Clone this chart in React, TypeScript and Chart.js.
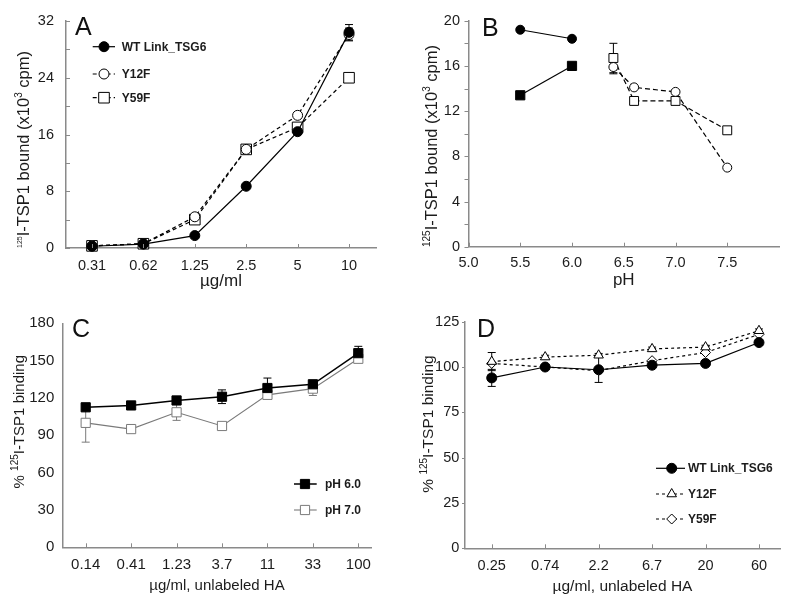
import React, { useEffect, useRef } from 'react';
import { Chart, registerables } from 'chart.js';

Chart.register(...registerables);

const FONT = "'Liberation Sans', Arial, Helvetica, sans-serif";
const TEXT = '#1c1c1c';
const AXIS = '#8a8a8a';
const GRAY = '#7a7a7a';

Chart.defaults.font.family = FONT;
Chart.defaults.color = TEXT;

// ---------------- Panel A ----------------
const A_CONC = ['0.31', '0.62', '1.25', '2.5', '5', '10'];
const A_SERIES = ['WT Link_TSG6', 'Y12F', 'Y59F'];
const A_WT = [0.25, 0.55, 1.75, 8.7, 16.4, 30.4];
const A_WT_ERR = [0, 0, 0, 0, 0, 1.1];
const A_Y12F = [0.3, 0.6, 4.4, 13.9, 18.7, 30.1];
const A_Y12F_ERR = [0, 0, 0, 0, 0, 0.9];
const A_Y59F = [0.3, 0.6, 4.0, 13.9, 17.0, 24.0];
const A_Y_TICKS = [0, 4, 8, 12, 16, 20, 24, 28, 32];
const A_Y_LABELS = [0, 8, 16, 24, 32];

// ---------------- Panel B ----------------
const B_PH_ACID = [5.5, 6.0];
const B_FILLED_CIRCLE = [19.2, 18.4];
const B_FILLED_SQUARE = [13.4, 16.0];
const B_PH_NEUTRAL = [6.4, 6.6, 7.0, 7.5];
const B_OPEN_CIRCLE = [15.9, 14.1, 13.7, 7.0];
const B_OPEN_CIRCLE_ERR = [0.6, 0, 0, 0];
const B_OPEN_SQUARE = [16.7, 12.9, 12.9, 10.3];
const B_OPEN_SQUARE_ERR = [1.3, 0, 0, 0];
const B_SERIES = ['filled circle', 'filled square', 'open circle', 'open square'];
const B_X_TICKS = [5.0, 5.5, 6.0, 6.5, 7.0, 7.5];
const B_Y_TICKS = [0, 2, 4, 6, 8, 10, 12, 14, 16, 18, 20];
const B_Y_LABELS = [0, 4, 8, 12, 16, 20];

// ---------------- Panel C ----------------
const C_HA = ['0.14', '0.41', '1.23', '3.7', '11', '33', '100'];
const C_SERIES = ['pH 6.0', 'pH 7.0'];
const C_PH6 = [112.5, 114, 118, 121, 128, 131, 156];
const C_PH6_ERR = [2, 1.5, 2, 5.5, 8, 2, 5.5];
const C_PH7 = [100, 95, 108.5, 97.5, 122.5, 127.5, 151.5];
const C_PH7_ERR = [15.5, 2, 6.5, 2, 3, 5.5, 2];
const C_Y_TICKS = [0, 30, 60, 90, 120, 150, 180];

// ---------------- Panel D ----------------
const D_HA = ['0.25', '0.74', '2.2', '6.7', '20', '60'];
const D_SERIES = ['WT Link_TSG6', 'Y12F', 'Y59F'];
const D_WT = [94, 100, 98.5, 101, 102, 113.5];
const D_WT_ERR = [4.7, 1, 7, 1, 1, 1.5];
const D_Y12F = [103, 105.5, 106.5, 110, 111, 120];
const D_Y12F_ERR = [5, 1, 1, 1, 1, 1];
const D_Y59F = [102, 100, 98, 103.5, 108, 118];
const D_Y_TICKS = [0, 25, 50, 75, 100, 125];

// ---------------- helpers ----------------
const idxPts = (ys: number[]) => ys.map((y, i) => ({ x: i, y }));
const xyPts = (xs: number[], ys: number[]) => ys.map((y, i) => ({ x: xs[i], y }));

function series(label: string, data: any[], o: any) {
  const color = o.color ?? '#000';
  return {
    label,
    data,
    borderColor: color,
    borderWidth: o.lineWidth ?? 1.2,
    borderDash: o.dash ?? [],
    pointStyle: o.style,
    pointRadius: o.radius,
    pointBackgroundColor: o.fill,
    pointBorderColor: color,
    pointBorderWidth: 1,
    fill: false,
    tension: 0,
    clip: false,
  };
}

function drawMarker(ctx: CanvasRenderingContext2D, style: string, x: number, y: number, r: number, fill: string, stroke: string) {
  ctx.beginPath();
  if (style === 'circle') {
    ctx.arc(x, y, r, 0, Math.PI * 2);
  } else if (style === 'rect') {
    const s = r * Math.SQRT1_2;
    ctx.rect(x - s, y - s, 2 * s, 2 * s);
  } else if (style === 'rectRot') {
    ctx.moveTo(x - r, y);
    ctx.lineTo(x, y - r);
    ctx.lineTo(x + r, y);
    ctx.lineTo(x, y + r);
    ctx.closePath();
  } else if (style === 'triangle') {
    let a = 0;
    ctx.moveTo(x + Math.sin(a) * r, y - Math.cos(a) * r);
    a += (2 * Math.PI) / 3;
    ctx.lineTo(x + Math.sin(a) * r, y - Math.cos(a) * r);
    a += (2 * Math.PI) / 3;
    ctx.lineTo(x + Math.sin(a) * r, y - Math.cos(a) * r);
    ctx.closePath();
  }
  ctx.fillStyle = fill;
  ctx.fill();
  ctx.strokeStyle = stroke;
  ctx.lineWidth = 1;
  ctx.setLineDash([]);
  ctx.stroke();
}

function makeErrorBars(bars: { ds: number; err: number[]; color: string }[], cap = 4) {
  return {
    id: 'errorBars',
    beforeDatasetsDraw(chart: any) {
      const ctx = chart.ctx;
      const xs = chart.scales.x;
      const ys = chart.scales.y;
      ctx.save();
      ctx.setLineDash([]);
      for (const b of bars) {
        const ds = chart.data.datasets[b.ds];
        ds.data.forEach((p: any, i: number) => {
          const e = b.err[i];
          if (!e) return;
          const px = xs.getPixelForValue(p.x);
          const hi = ys.getPixelForValue(p.y + e);
          const lo = ys.getPixelForValue(p.y - e);
          ctx.strokeStyle = b.color;
          ctx.lineWidth = 1;
          ctx.beginPath();
          ctx.moveTo(px, hi);
          ctx.lineTo(px, lo);
          ctx.moveTo(px - cap, hi);
          ctx.lineTo(px + cap, hi);
          ctx.moveTo(px - cap, lo);
          ctx.lineTo(px + cap, lo);
          ctx.stroke();
        });
      }
      ctx.restore();
    },
  };
}

function makeTickMarks(o: { xLen: number; xDir: 'in' | 'out'; yLen: number; yDir: 'in' | 'out' }) {
  return {
    id: 'tickMarks',
    afterDraw(chart: any) {
      const ctx = chart.ctx;
      const { left, bottom } = chart.chartArea;
      ctx.save();
      ctx.strokeStyle = AXIS;
      ctx.lineWidth = 1;
      ctx.beginPath();
      if (o.xLen > 0) {
        for (const t of chart.scales.x.ticks) {
          const px = Math.round(chart.scales.x.getPixelForValue(t.value)) + 0.5;
          ctx.moveTo(px, bottom);
          ctx.lineTo(px, bottom + (o.xDir === 'in' ? -o.xLen : o.xLen));
        }
      }
      if (o.yLen > 0) {
        for (const t of chart.scales.y.ticks) {
          const py = Math.round(chart.scales.y.getPixelForValue(t.value)) + 0.5;
          ctx.moveTo(left, py);
          ctx.lineTo(left + (o.yDir === 'in' ? o.yLen : -o.yLen), py);
        }
      }
      ctx.stroke();
      ctx.restore();
    },
  };
}

function makeLegend(o: { x1: number; x2: number; mx: number; tx: number; size: number; rows: { ds: number; y: number }[] }) {
  return {
    id: 'boxLegend',
    afterDraw(chart: any) {
      const ctx = chart.ctx;
      ctx.save();
      for (const r of o.rows) {
        const ds = chart.data.datasets[r.ds];
        ctx.strokeStyle = ds.borderColor;
        ctx.lineWidth = ds.borderWidth;
        ctx.setLineDash(ds.borderDash || []);
        ctx.beginPath();
        ctx.moveTo(o.x1, r.y);
        ctx.lineTo(o.x2, r.y);
        ctx.stroke();
        drawMarker(ctx, ds.pointStyle, o.mx, r.y, ds.pointRadius, ds.pointBackgroundColor, ds.pointBorderColor);
        ctx.fillStyle = TEXT;
        ctx.font = `bold ${o.size}px ${FONT}`;
        ctx.textBaseline = 'middle';
        ctx.textAlign = 'left';
        ctx.fillText(ds.label, o.tx, r.y + 0.5);
      }
      ctx.restore();
    },
  };
}

function makeLetter(letter: string, x: number, y: number) {
  return {
    id: 'panelLetter',
    afterDraw(chart: any) {
      const ctx = chart.ctx;
      ctx.save();
      ctx.fillStyle = '#111';
      ctx.font = `25px ${FONT}`;
      ctx.textBaseline = 'alphabetic';
      ctx.textAlign = 'left';
      ctx.fillText(letter, x, y);
      ctx.restore();
    },
  };
}

// Rotated y-axis title with real superscripts (mixed font sizes)
type Seg = { t: string; sup?: number };
function makeYTitle(segs: Seg[], o: { size: number; cx: number; startY?: number; centerY?: number }) {
  return {
    id: 'yTitle',
    afterDraw(chart: any) {
      const ctx = chart.ctx;
      ctx.save();
      const fontFor = (s: Seg) => `${s.sup ? s.sup : o.size}px ${FONT}`;
      const widths = segs.map((s) => {
        ctx.font = fontFor(s);
        return ctx.measureText(s.t).width;
      });
      const total = widths.reduce((a, b) => a + b, 0);
      const start = o.startY !== undefined ? o.startY : (o.centerY as number) + total / 2;
      ctx.translate(o.cx, start);
      ctx.rotate(-Math.PI / 2);
      ctx.fillStyle = TEXT;
      ctx.textAlign = 'left';
      ctx.textBaseline = 'alphabetic';
      const base = 0.36 * o.size;
      let u = 0;
      segs.forEach((s, i) => {
        ctx.font = fontFor(s);
        ctx.fillText(s.t, u, s.sup ? base - 0.4 * o.size : base);
        u += widths[i];
      });
      ctx.restore();
    },
  };
}

function catX(labels: string[], min: number, max: number, height: number, pad: number, size: number, title: string, titleSize: number, titlePad: number) {
  return {
    type: 'linear',
    min,
    max,
    afterBuildTicks: (s: any) => {
      s.ticks = labels.map((_, i) => ({ value: i }));
    },
    afterFit: (s: any) => {
      s.height = height;
    },
    ticks: { callback: (v: number) => labels[v], font: { size }, padding: pad, color: TEXT, maxRotation: 0, autoSkip: false },
    grid: { display: false, drawTicks: false },
    border: { display: true, color: AXIS, width: 1.5 },
    title: { display: true, text: title, font: { size: titleSize }, color: TEXT, padding: { top: 0, bottom: titlePad } },
  };
}

function linY(min: number, max: number, tickVals: number[], labelVals: number[], width: number, pad: number, size: number, title: string) {
  return {
    type: 'linear',
    min,
    max,
    afterBuildTicks: (s: any) => {
      s.ticks = tickVals.map((v) => ({ value: v }));
    },
    afterFit: (s: any) => {
      s.width = width;
    },
    ticks: { callback: (v: number) => (labelVals.includes(v) ? String(v) : ''), font: { size }, padding: pad, color: TEXT },
    grid: { display: false, drawTicks: false },
    border: { display: true, color: AXIS, width: 1.5 },
    // title text kept for reference; drawn by the yTitle plugin with true superscripts
    title: { display: false, text: title },
  };
}

function baseOptions(padding: any) {
  return {
    responsive: false,
    animation: false,
    devicePixelRatio: 1,
    events: [],
    layout: { padding },
    plugins: { legend: { display: false }, tooltip: { enabled: false } },
  };
}

const TITLE_BOUND = 'I-TSP1 bound (x10';
const TITLE_BINDING = 'I-TSP1 binding';

// ---------------- panel builders ----------------
function buildA() {
  return {
    type: 'line',
    data: {
      datasets: [
        series(A_SERIES[0], idxPts(A_WT), { style: 'circle', radius: 5, fill: '#000' }),
        series(A_SERIES[1], idxPts(A_Y12F), { style: 'circle', radius: 5, fill: '#fff', dash: [4, 3] }),
        series(A_SERIES[2], idxPts(A_Y59F), { style: 'rect', radius: 7.5, fill: '#fff', dash: [4, 3] }),
      ],
    },
    options: {
      ...baseOptions({ left: 0, top: 21, right: 24, bottom: 0 }),
      scales: {
        x: catX(A_CONC, -0.506, 5.525, 52, 9.3, 14.5, 'µg/ml', 17, 8.5),
        y: linY(0, 32, A_Y_TICKS, A_Y_LABELS, 66, 12, 14.5, '125I-TSP1 bound (x103 cpm)'),
      },
    },
    plugins: [
      makeErrorBars([
        { ds: 0, err: A_WT_ERR, color: '#000' },
        { ds: 1, err: A_Y12F_ERR, color: '#000' },
      ]),
      makeTickMarks({ xLen: 4, xDir: 'in', yLen: 4, yDir: 'in' }),
      makeLegend({ x1: 92.7, x2: 115, mx: 104, tx: 121.7, size: 12, rows: [{ ds: 0, y: 46.7 }, { ds: 1, y: 74 }, { ds: 2, y: 97.7 }] }),
      makeLetter('A', 75, 35),
      makeYTitle([{ t: '125', sup: 7 }, { t: TITLE_BOUND }, { t: '3', sup: 10 }, { t: ' cpm)' }], { size: 16.5, cx: 22.8, startY: 248 }),
    ],
  };
}

function buildB() {
  return {
    type: 'line',
    data: {
      datasets: [
        series(B_SERIES[0], xyPts(B_PH_ACID, B_FILLED_CIRCLE), { style: 'circle', radius: 4.5, fill: '#000' }),
        series(B_SERIES[1], xyPts(B_PH_ACID, B_FILLED_SQUARE), { style: 'rect', radius: 6.5, fill: '#000' }),
        series(B_SERIES[2], xyPts(B_PH_NEUTRAL, B_OPEN_CIRCLE), { style: 'circle', radius: 4.5, fill: '#fff', dash: [5, 3] }),
        series(B_SERIES[3], xyPts(B_PH_NEUTRAL, B_OPEN_SQUARE), { style: 'rect', radius: 6.3, fill: '#fff', dash: [5, 3] }),
      ],
    },
    options: {
      ...baseOptions({ left: 0, top: 20.7, right: 21, bottom: 0 }),
      scales: {
        x: {
          type: 'linear',
          min: 5.0,
          max: 8.0,
          afterBuildTicks: (s: any) => {
            s.ticks = B_X_TICKS.map((v) => ({ value: v }));
          },
          afterFit: (s: any) => {
            s.height = 53.3;
          },
          ticks: { callback: (v: number) => v.toFixed(1), font: { size: 14.5 }, padding: 7.9, color: TEXT, maxRotation: 0, autoSkip: false },
          grid: { display: false, drawTicks: false },
          border: { display: true, color: AXIS, width: 1.5 },
          title: { display: true, text: 'pH', font: { size: 17 }, color: TEXT, padding: { top: 0, bottom: 9.8 } },
        },
        y: linY(0, 20, B_Y_TICKS, B_Y_LABELS, 68.5, 8.5, 14.5, '125I-TSP1 bound (x103 cpm)'),
      },
    },
    plugins: [
      makeErrorBars([
        { ds: 2, err: B_OPEN_CIRCLE_ERR, color: '#000' },
        { ds: 3, err: B_OPEN_SQUARE_ERR, color: '#000' },
      ]),
      makeTickMarks({ xLen: 4, xDir: 'in', yLen: 4, yDir: 'out' }),
      makeLetter('B', 82, 36),
      makeYTitle([{ t: '125', sup: 10 }, { t: TITLE_BOUND }, { t: '3', sup: 10 }, { t: ' cpm)' }], { size: 16.5, cx: 30.8, startY: 247 }),
    ],
  };
}

function buildC() {
  return {
    type: 'line',
    data: {
      datasets: [
        series(C_SERIES[0], idxPts(C_PH6), { style: 'rect', radius: 6.5, fill: '#000', lineWidth: 1.5 }),
        series(C_SERIES[1], idxPts(C_PH7), { style: 'rect', radius: 6.5, fill: '#fff', color: GRAY, lineWidth: 1.1 }),
      ],
    },
    options: {
      ...baseOptions({ left: 0, top: 23.3, right: 28.3, bottom: 0 }),
      scales: {
        x: catX(C_HA, -0.515, 6.295, 67.7, 8.4, 15, 'µg/ml, unlabeled HA', 15, 20),
        y: linY(0, 180, C_Y_TICKS, C_Y_TICKS, 62.3, 8, 15, '% 125I-TSP1 binding'),
      },
    },
    plugins: [
      makeErrorBars([
        { ds: 0, err: C_PH6_ERR, color: '#000' },
        { ds: 1, err: C_PH7_ERR, color: GRAY },
      ]),
      makeTickMarks({ xLen: 4, xDir: 'in', yLen: 0, yDir: 'out' }),
      makeLegend({ x1: 294, x2: 316.7, mx: 305, tx: 325, size: 12, rows: [{ ds: 0, y: 184 }, { ds: 1, y: 210 }] }),
      makeLetter('C', 72, 37),
      makeYTitle([{ t: '% ' }, { t: '125', sup: 10 }, { t: TITLE_BINDING }], { size: 15, cx: 19, centerY: 121.7 }),
    ],
  };
}

function buildD() {
  return {
    type: 'line',
    data: {
      datasets: [
        series(D_SERIES[0], idxPts(D_WT), { style: 'circle', radius: 5, fill: '#000' }),
        series(D_SERIES[1], idxPts(D_Y12F), { style: 'triangle', radius: 5.5, fill: '#fff', dash: [3, 3] }),
        series(D_SERIES[2], idxPts(D_Y59F), { style: 'rectRot', radius: 5, fill: '#fff', dash: [3, 3] }),
      ],
    },
    options: {
      ...baseOptions({ left: 0, top: 21.7, right: 20, bottom: 0 }),
      scales: {
        x: catX(D_HA, -0.5, 5.393, 66.7, 9.2, 14.5, 'µg/ml, unlabeled HA', 15.5, 19.2),
        y: linY(0, 125, D_Y_TICKS, D_Y_TICKS, 65, 5.7, 14.5, '% 125I-TSP1 binding'),
      },
    },
    plugins: [
      makeErrorBars([
        { ds: 0, err: D_WT_ERR, color: '#000' },
        { ds: 1, err: D_Y12F_ERR, color: '#000' },
      ]),
      makeTickMarks({ xLen: 4, xDir: 'in', yLen: 3, yDir: 'out' }),
      makeLegend({ x1: 256, x2: 285, mx: 271.7, tx: 288, size: 12, rows: [{ ds: 0, y: 168.3 }, { ds: 1, y: 194 }, { ds: 2, y: 219 }] }),
      makeLetter('D', 77, 37),
      makeYTitle([{ t: '% ' }, { t: '125', sup: 10 }, { t: TITLE_BINDING }], { size: 15.5, cx: 27.5, centerY: 124 }),
    ],
  };
}

function ChartPanel({ left, top, width, height, build }: { left: number; top: number; width: number; height: number; build: () => any }) {
  const ref = useRef<HTMLCanvasElement>(null);
  useEffect(() => {
    if (!ref.current) return;
    const chart = new Chart(ref.current, build());
    return () => chart.destroy();
  }, [build]);
  return (
    <canvas
      ref={ref}
      width={width}
      height={height}
      style={{ position: 'absolute', left, top, width, height, display: 'block' }}
    />
  );
}

export default function App() {
  return (
    <div style={{ position: 'fixed', left: 0, top: 0, width: 800, height: 615, background: '#fff', overflow: 'hidden' }}>
      <ChartPanel left={0} top={0} width={400} height={300} build={buildA} />
      <ChartPanel left={400} top={0} width={400} height={300} build={buildB} />
      <ChartPanel left={0} top={300} width={400} height={315} build={buildC} />
      <ChartPanel left={400} top={300} width={400} height={315} build={buildD} />
    </div>
  );
}
